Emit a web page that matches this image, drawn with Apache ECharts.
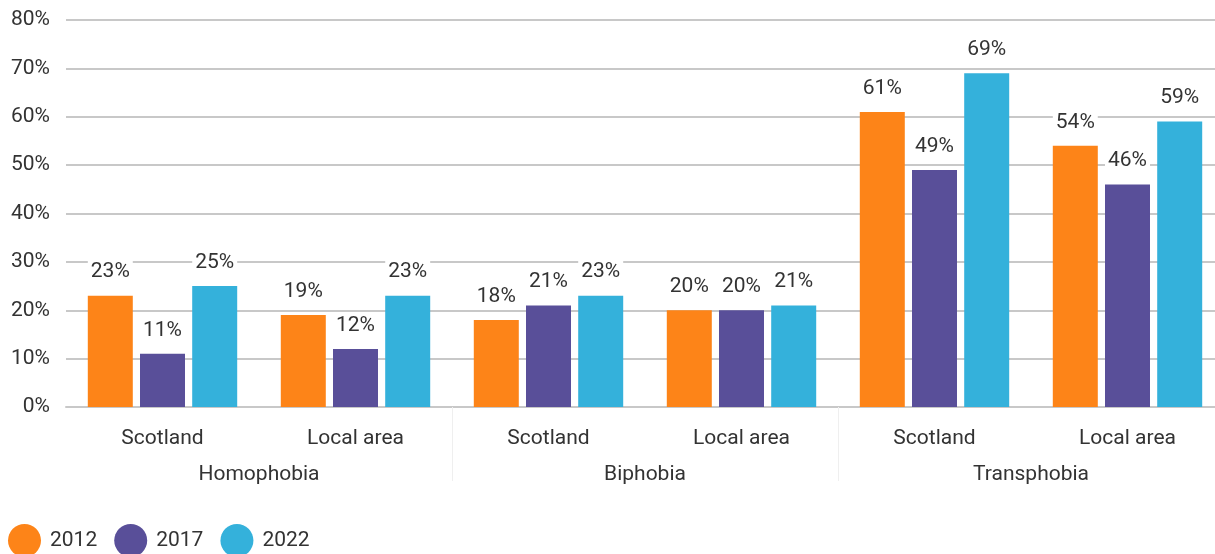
<!DOCTYPE html>
<html>
<head>
<meta charset="UTF-8">
<title>Hate crime perception</title>
<script src="https://cdn.jsdelivr.net/npm/echarts@6/dist/echarts.min.js"></script>
<style>
  html, body { margin: 0; padding: 0; background: #fff; overflow: hidden; }
  #chart { width: 1230px; height: 554px; }
</style>
</head>
<body>
<div id="chart"></div>
<script type="text/javascript">
var areas = ['Scotland', 'Local area', 'Scotland', 'Local area', 'Scotland', 'Local area'];
var groups = ['Homophobia', 'Biphobia', 'Transphobia'];
var years = ['2012', '2017', '2022'];
var values2012 = [23, 19, 18, 20, 61, 54];
var values2017 = [11, 12, 21, 20, 49, 46];
var values2022 = [25, 23, 23, 21, 69, 59];
var colors = ['#fd8418', '#594f99', '#34b1db'];

var font = "'Liberation Sans Narrow', 'Roboto', sans-serif";
var textColor = '#333333';

function makeSeries(name, data, color) {
  return {
    name: name,
    type: 'bar',
    data: data,
    barWidth: 45,
    barGap: '16%',
    itemStyle: { color: color },
    label: {
      show: true,
      position: 'top',
      distance: 11,
      formatter: '{c}%',
      fontFamily: font,
      fontSize: 21,
      color: textColor,
      backgroundColor: '#fff',
      padding: [2, 3]
    }
  };
}

var chart = echarts.init(document.getElementById('chart'));
chart.setOption({
  animation: false,
  color: colors,
  grid: { left: 66, top: 20, right: 6, height: 387, containLabel: false },
  legend: {
    left: 3,
    top: 519,
    icon: 'circle',
    itemWidth: 33,
    itemHeight: 33,
    itemGap: 17,
    data: years,
    textStyle: { fontFamily: font, fontSize: 21, color: textColor, padding: [0, 0, 0, 4] }
  },
  xAxis: [
    {
      type: 'category',
      data: areas,
      axisLine: { lineStyle: { color: '#c8c8c8', width: 2 } },
      axisTick: { show: false },
      axisLabel: { fontFamily: font, fontSize: 21, color: textColor, margin: 21 }
    },
    {
      type: 'category',
      data: groups,
      position: 'bottom',
      axisLine: { show: false },
      axisTick: {
        show: true,
        inside: false,
        length: 74,
        interval: function (index) { return index !== 0; },
        lineStyle: { color: '#efefef', width: 1 }
      },
      axisLabel: { fontFamily: font, fontSize: 21, color: textColor, margin: 57 }
    }
  ],
  yAxis: {
    type: 'value',
    min: 0,
    max: 80,
    interval: 10,
    axisLine: { show: false },
    axisTick: { show: false },
    splitLine: { lineStyle: { color: '#c8c8c8', width: 2 } },
    axisLabel: { formatter: '{value}%', fontFamily: font, fontSize: 21, color: textColor, margin: 16 }
  },
  series: [
    makeSeries(years[0], values2012, colors[0]),
    makeSeries(years[1], values2017, colors[1]),
    makeSeries(years[2], values2022, colors[2])
  ]
});
</script>
</body>
</html>
